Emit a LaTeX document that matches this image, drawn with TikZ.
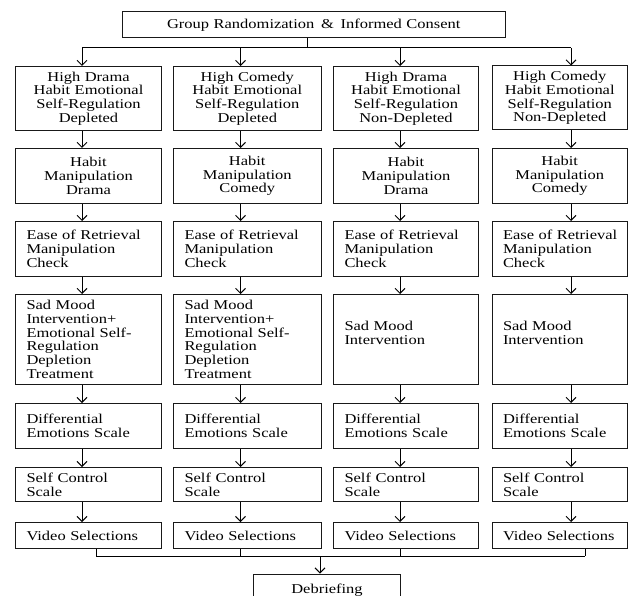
\documentclass[tikz,border=0pt]{standalone}
\usepackage{fontspec}
\setmainfont{Liberation Serif}[FakeStretch=1.22]
\usetikzlibrary{arrows.meta}

\begin{document}
\begin{tikzpicture}[x=1pt, y=-1pt, line width=1pt,
  font=\fontsize{13.5}{13.7}\selectfont,
  stage/.style={draw=black!90, anchor=north west, inner xsep=11pt, inner ysep=0pt},
  mid/.style={stage, align=center},
  lft/.style={stage, align=left},
  w1/.style={text width=124pt}, w2/.style={text width=125.5pt},
  w3/.style={text width=123pt}, w4/.style={text width=113.5pt},
  arr/.style={-{Straight Barb[length=5pt,width=10pt]}}]

\useasboundingbox (0,0) rectangle (629,596);

\node[mid, text width=361.5pt, minimum height=26pt] (start) at (121.5,11.5) {Group Randomization\enspace\&\enspace Informed Consent};

% row 1
\node[mid, w1, minimum height=64pt] (s11) at (15,66) {High Drama\\Habit Emotional\\Self-Regulation\\Depleted};
\node[mid, w2, minimum height=64pt] (s12) at (173,66) {High Comedy\\Habit Emotional\\Self-Regulation\\Depleted};
\node[mid, w3, minimum height=64pt] (s13) at (333,66) {High Drama\\Habit Emotional\\Self-Regulation\\Non-Depleted};
\node[mid, w4, minimum height=64pt] (s14) at (491.5,65.5) {High Comedy\\Habit Emotional\\Self-Regulation\\Non-Depleted};

% row 2
\node[mid, w1, minimum height=55pt] (s21) at (15,148) {Habit\\Manipulation\\Drama};
\node[mid, w2, minimum height=55pt] (s22) at (173,148) {Habit\\Manipulation\\Comedy};
\node[mid, w3, minimum height=55pt] (s23) at (333,148) {Habit\\Manipulation\\Drama};
\node[mid, w4, minimum height=55pt] (s24) at (491.5,148) {Habit\\Manipulation\\Comedy};

% row 3
\node[lft, w1, minimum height=55pt] (s31) at (15,221) {Ease of Retrieval\\Manipulation\\Check};
\node[lft, w2, minimum height=55pt] (s32) at (173,221) {Ease of Retrieval\\Manipulation\\Check};
\node[lft, w3, minimum height=55pt] (s33) at (333,221) {Ease of Retrieval\\Manipulation\\Check};
\node[lft, w4, minimum height=55pt] (s34) at (491.5,221) {\mbox{Ease of Retrieval}\\Manipulation\\Check};

% row 4
\node[lft, w1, minimum height=90pt] (s41) at (15,294) {Sad Mood\\Intervention+\\Emotional  Self-\\Regulation\\Depletion\\Treatment};
\node[lft, w2, minimum height=90pt] (s42) at (173,294) {Sad Mood\\Intervention+\\Emotional  Self-\\Regulation\\Depletion\\Treatment};
\node[lft, w3, minimum height=90pt] (s43) at (333,294) {Sad Mood\\Intervention\\ \mbox{}};
\node[lft, w4, minimum height=90pt] (s44) at (491.5,294) {Sad Mood\\Intervention\\ \mbox{}};

% row 5
\node[lft, w1, minimum height=45pt] (s51) at (15,403) {Differential\\Emotions Scale};
\node[lft, w2, minimum height=45pt] (s52) at (173,403) {Differential\\Emotions Scale};
\node[lft, w3, minimum height=45pt] (s53) at (333,403) {Differential\\Emotions Scale};
\node[lft, w4, minimum height=45pt] (s54) at (491.5,403) {Differential\\Emotions Scale};

% row 6
\node[lft, w1, minimum height=34pt] (s61) at (15,467) {Self Control\\Scale};
\node[lft, w2, minimum height=34pt] (s62) at (173,467) {Self Control\\Scale};
\node[lft, w3, minimum height=34pt] (s63) at (333,467) {Self Control\\Scale};
\node[lft, w4, minimum height=34pt] (s64) at (491.5,467) {Self Control\\Scale};

% row 7
\node[lft, w1, minimum height=26pt] (s71) at (15,522) {Video Selections};
\node[lft, w2, minimum height=26pt] (s72) at (173,522) {Video Selections};
\node[lft, w3, minimum height=26pt] (s73) at (333,522) {Video Selections};
\node[lft, w4, minimum height=26pt] (s74) at (491.5,522) {\mbox{Video Selections}};

\node[mid, text width=125pt, minimum height=32pt] (debrief) at (253,573.5) {Debriefing};

% split and merge
\coordinate (split) at (307,48);
\coordinate (lane1) at (82,48);
\coordinate (lane2) at (240.5,48);
\coordinate (lane3) at (400,48);
\coordinate (lane4) at (571,48);
\coordinate (join1) at (96,556);
\coordinate (join2) at (240.5,556);
\coordinate (join3) at (400,556);
\coordinate (join4) at (585,556);
\coordinate (merge) at (320,556);

\draw (start.south -| split) -- (split);
\draw (lane1) -- (lane4);
\foreach \j in {1,...,4}
  \draw[arr] (lane\j) -- (lane\j |- s1\j.north);
\foreach \j in {1,...,4}
  \foreach \i [count=\k from 2] in {1,...,6}
    \draw[arr] (lane\j |- s\i\j.south) -- (lane\j |- s\k\j.north);

\foreach \j in {1,...,4}
  \draw (s7\j.south -| join\j) -- (join\j);
\draw (join1) -- (join4);
\draw[arr] (merge) -- (debrief.north -| merge);
\end{tikzpicture}
\end{document}
